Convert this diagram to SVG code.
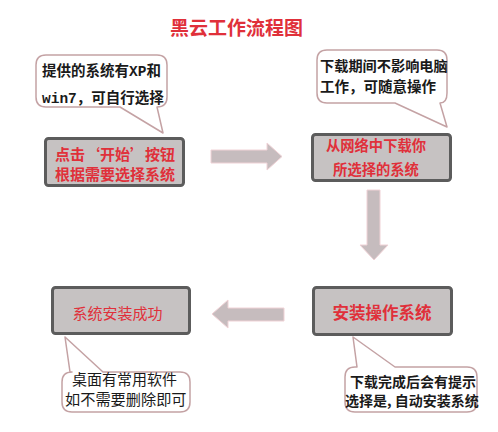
<svg xmlns="http://www.w3.org/2000/svg" width="498" height="432" viewBox="0 0 498 432">
<style>
.bg{fill:#ffffff}
.box{fill:#c6c2c2;stroke:#5c5c5c;stroke-width:3}
.bub{fill:#ffffff;stroke:#c4a2a4;stroke-width:1.5;stroke-linejoin:round}
.arr{fill:#c6bcbe;stroke:#f0d2d6;stroke-width:1}
.t{font-family:"Noto Sans CJK SC","Noto Sans",sans-serif}
.red{fill:#e0303a}
.blk{fill:#1a1a1a}
.b{font-weight:bold}
.mono{font-family:"Liberation Mono","DejaVu Sans Mono",monospace;font-weight:bold}
</style>
<rect class="bg" x="0" y="0" width="498" height="432"/>
<g id="title">
<text class="t b red" x="170" y="34.5" font-size="19">黑云工作流程图</text>
</g>
<g id="connectors">
<polygon class="arr" points="211,150 267,150 267,143 282,156.5 267,170 267,163 211,163"/>
<polygon class="arr" points="367,190 380,190 380,245 388,245 374,260 360,245 367,245"/>
<polygon class="arr" points="284,308 228,308 228,300 212,314 228,328 228,321 284,321"/>
</g>
<g id="note1">
<path class="bub" d="M46,55 H157 Q167,55 167,65 V97 Q167,107 157,107 L163,133 L120,107 H46 Q36,107 36,97 V65 Q36,55 46,55 Z"/>
<text class="t b blk" x="42" y="75.5" font-size="14.5">提供的系统有<tspan class="mono">XP</tspan>和</text>
<text class="t b blk" x="42" y="102.5" font-size="14.5"><tspan class="mono">win7</tspan>，可自行选择</text>
</g>
<g id="note2">
<path class="bub" d="M327,50 H437 Q447,50 447,60 V93 Q447,103 440,103 L447,127 L395,103 H327 Q317,103 317,93 V60 Q317,50 327,50 Z"/>
<text class="t b blk" x="320" y="71.4" font-size="14.2">下载期间不影响电脑</text>
<text class="t b blk" x="320" y="92.4" font-size="14.5">工作，可随意操作</text>
</g>
<g id="note3">
<path class="bub" d="M357,367 L353,337 L395,367 H467 Q477,367 477,377 V402 Q477,412 467,412 H355 Q345,412 345,402 V377 Q345,367 355,367 Z"/>
<text class="t b blk" x="350" y="386.6" font-size="14">下载完成后会有提示</text>
<text class="t b blk" x="345" y="406.2" font-size="14">选择是, 自动安装系统</text>
</g>
<g id="note4">
<path class="bub" d="M70,372 L65,337 L103,372 H180 Q190,372 190,382 V402 Q190,412 180,412 H72 Q62,412 62,402 V382 Q62,372 72,372 Z"/>
<text class="t blk" x="72" y="384.8" font-size="15">桌面有常用软件</text>
<text class="t blk" x="65" y="405.2" font-size="15.2">如不需要删除即可</text>
</g>
<g id="step1">
<rect class="box" x="45.5" y="138.5" width="138" height="47" rx="3"/>
<text class="t b red" x="115" y="159.7" font-size="15" text-anchor="middle">点击‘开始’按钮</text>
<text class="t b red" x="115" y="179.7" font-size="15" text-anchor="middle">根据需要选择系统</text>
</g>
<g id="step2">
<rect class="box" x="312.5" y="134.5" width="138" height="46" rx="3"/>
<text class="t b red" x="376" y="151.4" font-size="14.3" text-anchor="middle">从网络中下载你</text>
<text class="t b red" x="376" y="175.4" font-size="14.3" text-anchor="middle">所选择的系统</text>
</g>
<g id="step3">
<rect class="box" x="313.5" y="287.5" width="138" height="47" rx="3"/>
<text class="t b red" x="382" y="319.3" font-size="16.5" text-anchor="middle">安装操作系统</text>
</g>
<g id="step4">
<rect class="box" x="52.5" y="287.5" width="137" height="46" rx="3"/>
<text class="t red" x="117.5" y="318.7" font-size="15" text-anchor="middle">系统安装成功</text>
</g>
</svg>
